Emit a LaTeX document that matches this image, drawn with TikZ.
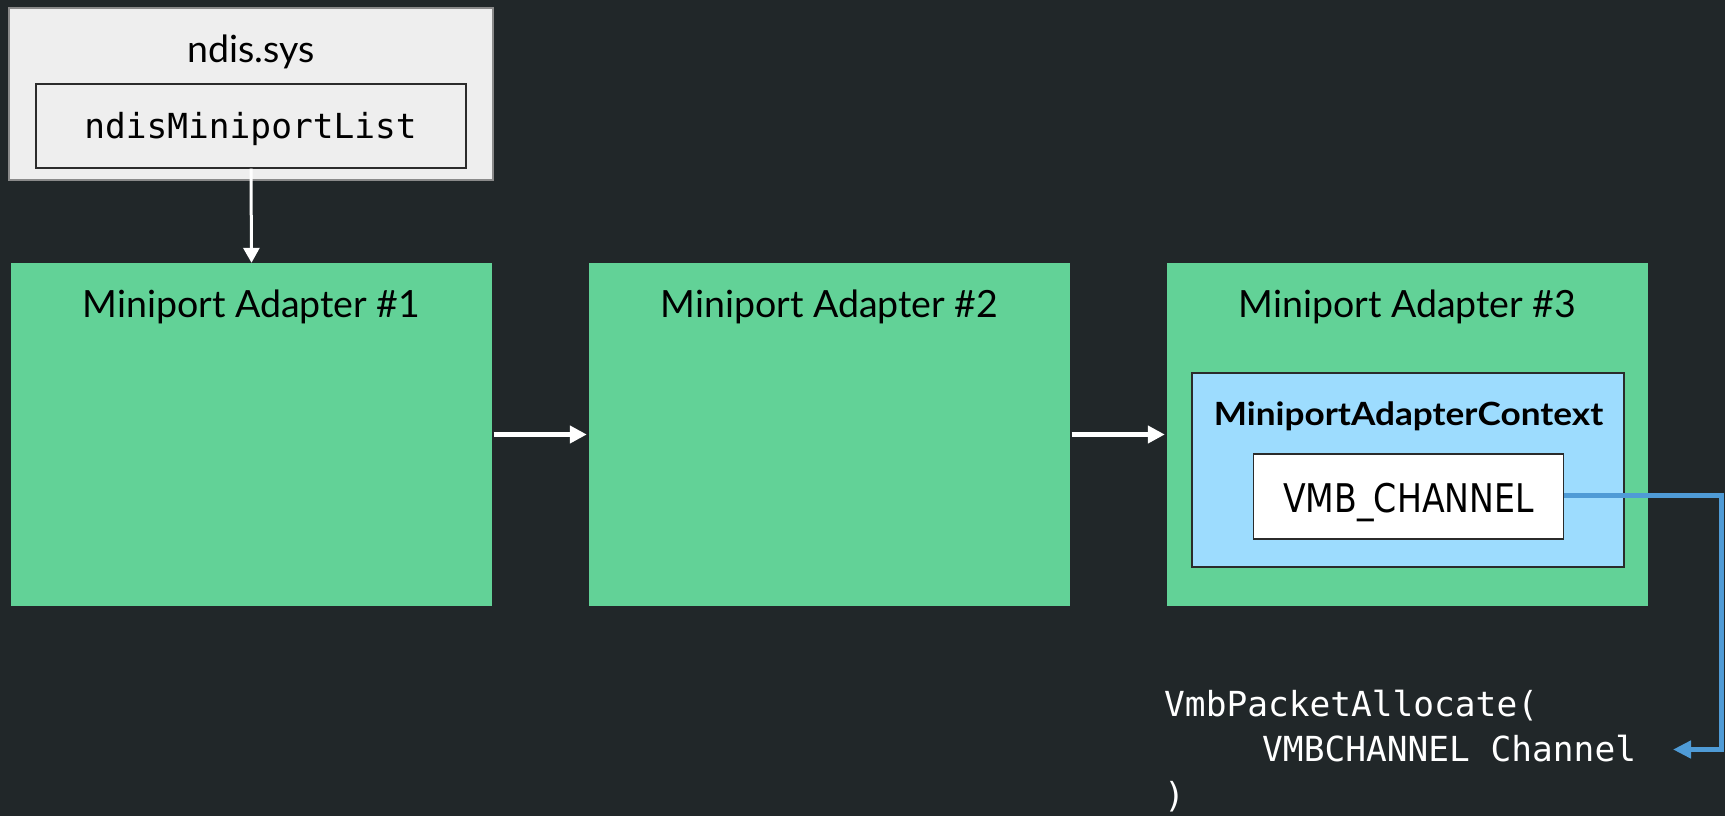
\documentclass[tikz,border=0pt]{standalone}
\usepackage{fontspec}
\setmainfont{Lato}
\newfontfamily\codefont{DejaVu Sans Mono}
\newfontfamily\plainsans[FakeStretch=0.84]{DejaVu Sans}
\newfontfamily\ctxfont[FakeStretch=1.1]{Lato}
\usetikzlibrary{arrows.meta}

\definecolor{bgdark}{HTML}{212729}
\definecolor{adaptergreen}{HTML}{62D297}
\definecolor{ctxblue}{HTML}{9DDCFE}
\definecolor{linkblue}{HTML}{4F9BD6}
\definecolor{sysgray}{HTML}{EEEEEE}
\definecolor{sysborder}{HTML}{8A8A8A}
\definecolor{inkdark}{HTML}{2B2B2B}

\tikzset{
  sysbox/.style={draw=sysborder, line width=2.5pt, fill=sysgray, inner sep=0pt},
  listbox/.style={draw=inkdark, line width=1.3pt, fill=sysgray, inner sep=0pt},
  adapter/.style={fill=adaptergreen, inner sep=0pt,
    minimum width=481pt, minimum height=343pt},
  label/.style={anchor=base, inner sep=0pt, text=black},
  title/.style={label, font=\fontsize{37.5}{44}\selectfont},
  listtext/.style={label, font=\codefont\fontsize{34.5}{40}\selectfont},
  ctxbox/.style={draw=inkdark, line width=1.3pt, fill=ctxblue, inner sep=0pt,
    minimum width=432pt, minimum height=194pt},
  ctxtitle/.style={label, font=\ctxfont\bfseries\fontsize{32}{38}\selectfont},
  fieldbox/.style={draw=inkdark, line width=1.3pt, fill=white, inner sep=0pt,
    minimum width=310pt, minimum height=85pt},
  fieldtext/.style={label, font=\plainsans\fontsize{39.5}{46}\selectfont},
  codetext/.style={anchor=base west, inner sep=0pt, text=white,
    font=\codefont\fontsize{34.5}{45}\selectfont},
  nextlink/.style={draw=white, line width=5.5pt,
    -{Triangle[length=17pt,width=17pt]}},
  headlink/.style={draw=white, line width=3pt,
    -{Triangle[length=15pt,width=16pt]}},
  chanlink/.style={draw=linkblue, line width=5pt,
    -{Triangle[length=18pt,width=17pt]}}
}

\begin{document}
\begin{tikzpicture}[x=1pt,y=-1pt]
  \fill[bgdark] (0,0) rectangle (1725,816);
  \useasboundingbox (0,0) rectangle (1725,816);

  % ndis.sys with its list head
  \node[sysbox, minimum width=484pt, minimum height=172pt] (ndis) at (251,94) {};
  \node[title] (ndislabel) at (251,63) {ndis.sys};
  \node[listbox, minimum width=430pt, minimum height=84pt] (list) at (251,126) {};
  \node[listtext] (listlabel) at (250.5,138) {ndisMiniportList};

  % miniport adapters
  \node[adapter] (a1) at (251.5,434.5) {};
  \node[adapter] (a2) at (829.5,434.5) {};
  \node[adapter] (a3) at (1407.5,434.5) {};
  \node[title] (t1) at (251.5,317) {Miniport Adapter \#1};
  \node[title] (t2) at (829.5,317) {Miniport Adapter \#2};
  \node[title] (t3) at (1407.5,317) {Miniport Adapter \#3};

  % adapter context and its channel
  \node[ctxbox] (ctx) at (1408,470) {};
  \node[ctxtitle] (ctxlabel) at (1408.5,425) {MiniportAdapterContext};
  \node[fieldbox] (chan) at (1408.5,496.5) {};
  \node[fieldtext] (chanlabel) at (1408.5,512) {VMB\_CHANNEL};

  % call that takes the channel
  \node[codetext] (call1) at (1164,716.5) {VmbPacketAllocate(};
  \node[codetext] (call2) at (1262,761.5) {VMBCHANNEL Channel};
  \node[codetext] (call3) at (1164,807) {)};
  \coordinate (chanarg) at (1673,749.5);
  \coordinate (turn) at (1721,495.5);

  % links
  \draw[headlink] (list.south) -- (a1.north);
  \draw[nextlink] ([xshift=1.5pt]a1.east) -- ([xshift=-2pt]a2.west);
  \draw[nextlink] ([xshift=1.5pt]a2.east) -- ([xshift=-2pt]a3.west);
  \draw[chanlink] (chan.east |- turn) -- (turn) |- (chanarg);
\end{tikzpicture}
\end{document}
